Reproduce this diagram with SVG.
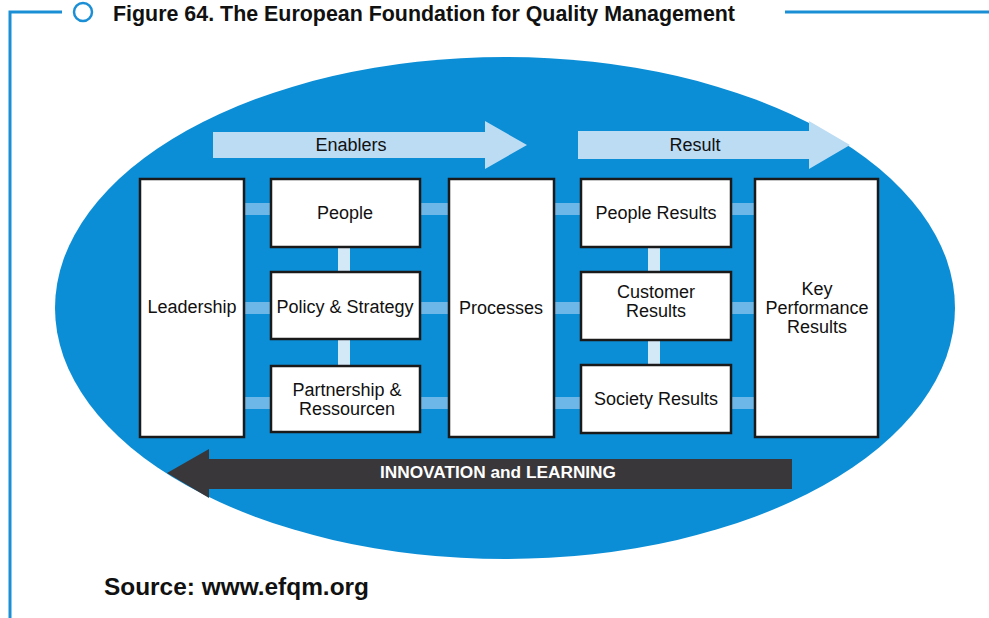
<svg xmlns="http://www.w3.org/2000/svg" width="989" height="618" viewBox="0 0 989 618">
<style>
.box{fill:#ffffff;stroke:#1a1a1a;stroke-width:2.5}
.lbl{font-family:"Liberation Sans",Arial,sans-serif;font-size:18px;fill:#111;text-anchor:middle}
.hbar{fill:#6cb6e8}
.vbar{fill:#d4e9f8}
.light{fill:#bcdcf3}
.frame{stroke:#1a8fd6;stroke-width:3;fill:none}
</style>
<rect width="989" height="618" fill="#ffffff"/>
<g id="frame">
<path class="frame" d="M10,618 V12 H62"/>
<line class="frame" x1="785" y1="12" x2="989" y2="12"/>
<circle cx="83" cy="12" r="9" fill="#fff" stroke="#1a8fd6" stroke-width="2.5"/>
<text x="113" y="21" font-family="'Liberation Sans',Arial,sans-serif" font-weight="bold" font-size="22" fill="#111" textLength="622" lengthAdjust="spacingAndGlyphs">Figure 64. The European Foundation for Quality Management</text>
</g>
<ellipse id="background" cx="505" cy="308" rx="450" ry="251" fill="#0b8ed6"/>
<g id="enablers-arrow">
<polygon class="light" points="213,132 485,132 485,121 527,145 485,169 485,158 213,158"/>
<text class="lbl" x="351" y="151" font-size="17">Enablers</text>
</g>
<g id="result-arrow">
<polygon class="light" points="578,131 809,131 809,121 850,145 809,169 809,159 578,159"/>
<text class="lbl" x="695" y="151" font-size="17">Result</text>
</g>
<g id="connectors">
<rect class="hbar" x="244" y="203" width="27" height="12"/>
<rect class="hbar" x="244" y="302" width="27" height="12"/>
<rect class="hbar" x="244" y="397" width="27" height="12"/>
<rect class="hbar" x="420" y="203" width="29" height="12"/>
<rect class="hbar" x="420" y="302" width="29" height="12"/>
<rect class="hbar" x="420" y="397" width="29" height="12"/>
<rect class="hbar" x="554" y="203" width="27" height="12"/>
<rect class="hbar" x="554" y="302" width="27" height="12"/>
<rect class="hbar" x="554" y="397" width="27" height="12"/>
<rect class="hbar" x="731" y="203" width="24" height="12"/>
<rect class="hbar" x="731" y="302" width="24" height="12"/>
<rect class="hbar" x="731" y="397" width="24" height="12"/>
<rect class="vbar" x="338" y="247" width="12" height="25"/>
<rect class="vbar" x="338" y="339" width="12" height="27"/>
<rect class="vbar" x="648" y="247" width="12" height="25"/>
<rect class="vbar" x="648" y="340" width="12" height="25"/>
</g>
<g id="leadership">
<rect class="box" x="140" y="179" width="104" height="258"/>
<text class="lbl" x="192" y="313">Leadership</text>
</g>
<g id="people">
<rect class="box" x="271" y="179" width="149" height="68"/>
<text class="lbl" x="345" y="219">People</text>
</g>
<g id="policy">
<rect class="box" x="271" y="272" width="149" height="67"/>
<text class="lbl" x="345" y="313">Policy &amp; Strategy</text>
</g>
<g id="partnership">
<rect class="box" x="271" y="366" width="149" height="66"/>
<text class="lbl" x="347" y="396">Partnership &amp;</text>
<text class="lbl" x="347" y="415">Ressourcen</text>
</g>
<g id="processes">
<rect class="box" x="449" y="179" width="105" height="258"/>
<text class="lbl" x="501" y="314">Processes</text>
</g>
<g id="people-results">
<rect class="box" x="581" y="179" width="150" height="68"/>
<text class="lbl" x="656" y="219">People Results</text>
</g>
<g id="customer-results">
<rect class="box" x="581" y="272" width="150" height="68"/>
<text class="lbl" x="656" y="298">Customer</text>
<text class="lbl" x="656" y="317">Results</text>
</g>
<g id="society-results">
<rect class="box" x="581" y="365" width="150" height="68"/>
<text class="lbl" x="656" y="405">Society Results</text>
</g>
<g id="key-performance">
<rect class="box" x="755" y="179" width="123" height="258"/>
<text class="lbl" x="817" y="295">Key</text>
<text class="lbl" x="817" y="314">Performance</text>
<text class="lbl" x="817" y="333">Results</text>
</g>
<g id="innovation-arrow">
<polygon fill="#39373a" points="792,459 209,459 209,449 167,473 209,498 209,489 792,489"/>
<text x="498" y="478" font-family="'Liberation Sans',Arial,sans-serif" font-weight="bold" font-size="16" fill="#ffffff" text-anchor="middle" textLength="236" lengthAdjust="spacingAndGlyphs">INNOVATION and LEARNING</text>
</g>
<text id="source" x="104" y="595" font-family="'Liberation Sans',Arial,sans-serif" font-weight="bold" font-size="24" fill="#111" textLength="265" lengthAdjust="spacingAndGlyphs">Source: www.efqm.org</text>
</svg>
